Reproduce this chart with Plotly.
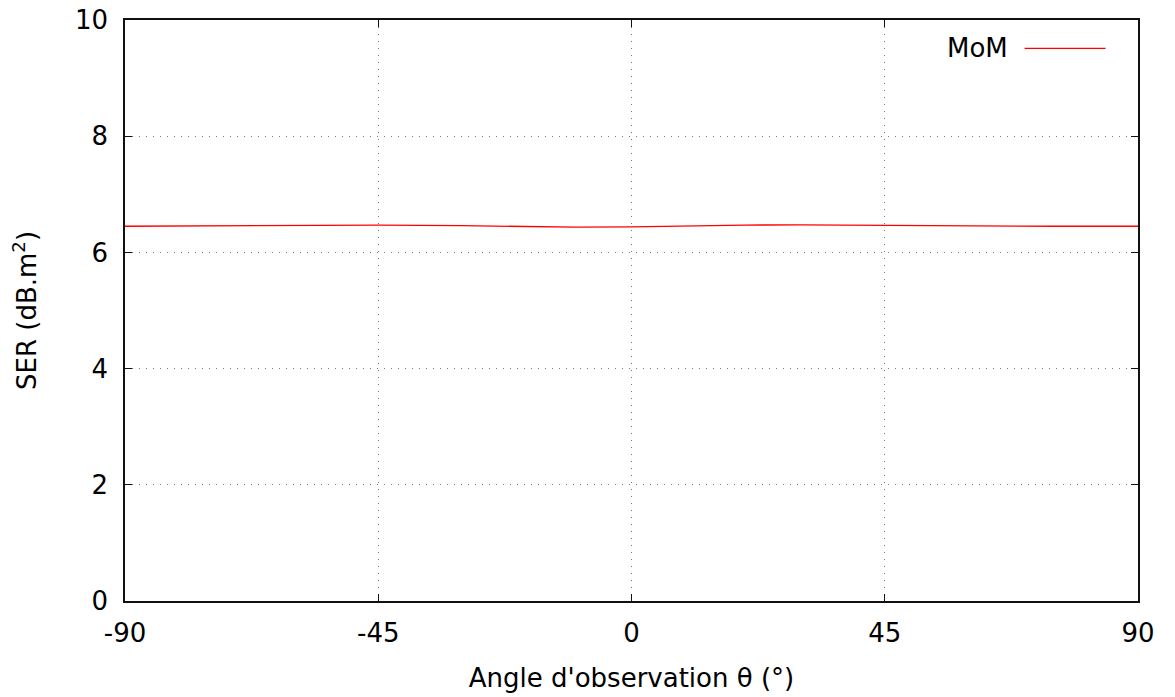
import plotly.graph_objects as go

angles = [-90, -75, -60, -45, -30, -20, -10, 0, 10, 20, 30, 45, 60, 75, 90]
ser_mom = [6.45, 6.455, 6.46, 6.47, 6.46, 6.445, 6.435, 6.44, 6.46, 6.47, 6.475, 6.465, 6.455, 6.45, 6.45]
x_ticks = [-90, -45, 0, 45, 90]
y_ticks = [0, 2, 4, 6, 8, 10]
series_name = "MoM"

font = "DejaVu Sans"
fs = 26
fig = go.Figure()
fig.add_trace(go.Scatter(x=angles, y=ser_mom, mode="lines", line=dict(color="#ff0000", width=1.3),
                         name=series_name, showlegend=False))

axis_common = dict(showline=True, linecolor="#111111", linewidth=1.5, mirror="allticks",
                   ticks="inside", ticklen=7, tickcolor="#111111", tickwidth=1,
                   showgrid=True, gridcolor="#777777", griddash="1px,6px", gridwidth=1,
                   zeroline=False, ticklabeloverflow="allow", automargin=False,
                   tickfont=dict(family=font, size=fs, color="black"))

fig.update_xaxes(range=[-90, 90], tickvals=x_ticks, ticktext=[str(v) for v in x_ticks],
                 title=dict(text="Angle d'observation θ (°)", font=dict(family=font, size=fs, color="black"), standoff=22),
                 ticklabelstandoff=8, **axis_common)
fig.update_yaxes(range=[0, 10], tickvals=y_ticks, ticktext=[str(v) for v in y_ticks],
                 title=dict(text="SER (dB.m<sup>2</sup>)", font=dict(family=font, size=fs, color="black"), standoff=45),
                 ticklabelstandoff=10, **axis_common)

# gnuplot-style key: label left of the sample line
fig.add_annotation(xref="paper", yref="paper", x=0.8736, y=0.952, text=series_name, showarrow=False,
                   xanchor="right", yanchor="middle", font=dict(family=font, size=fs, color="black"))
fig.add_shape(type="line", xref="paper", yref="paper", x0=0.888, x1=0.968, y0=0.951, y1=0.951,
              line=dict(color="#ff0000", width=1.3))

fig.update_layout(width=1175, height=697, margin=dict(l=117, r=45, t=12, b=104),
                  plot_bgcolor="white", paper_bgcolor="white", font=dict(family=font))
fig.write_html("out.html")
